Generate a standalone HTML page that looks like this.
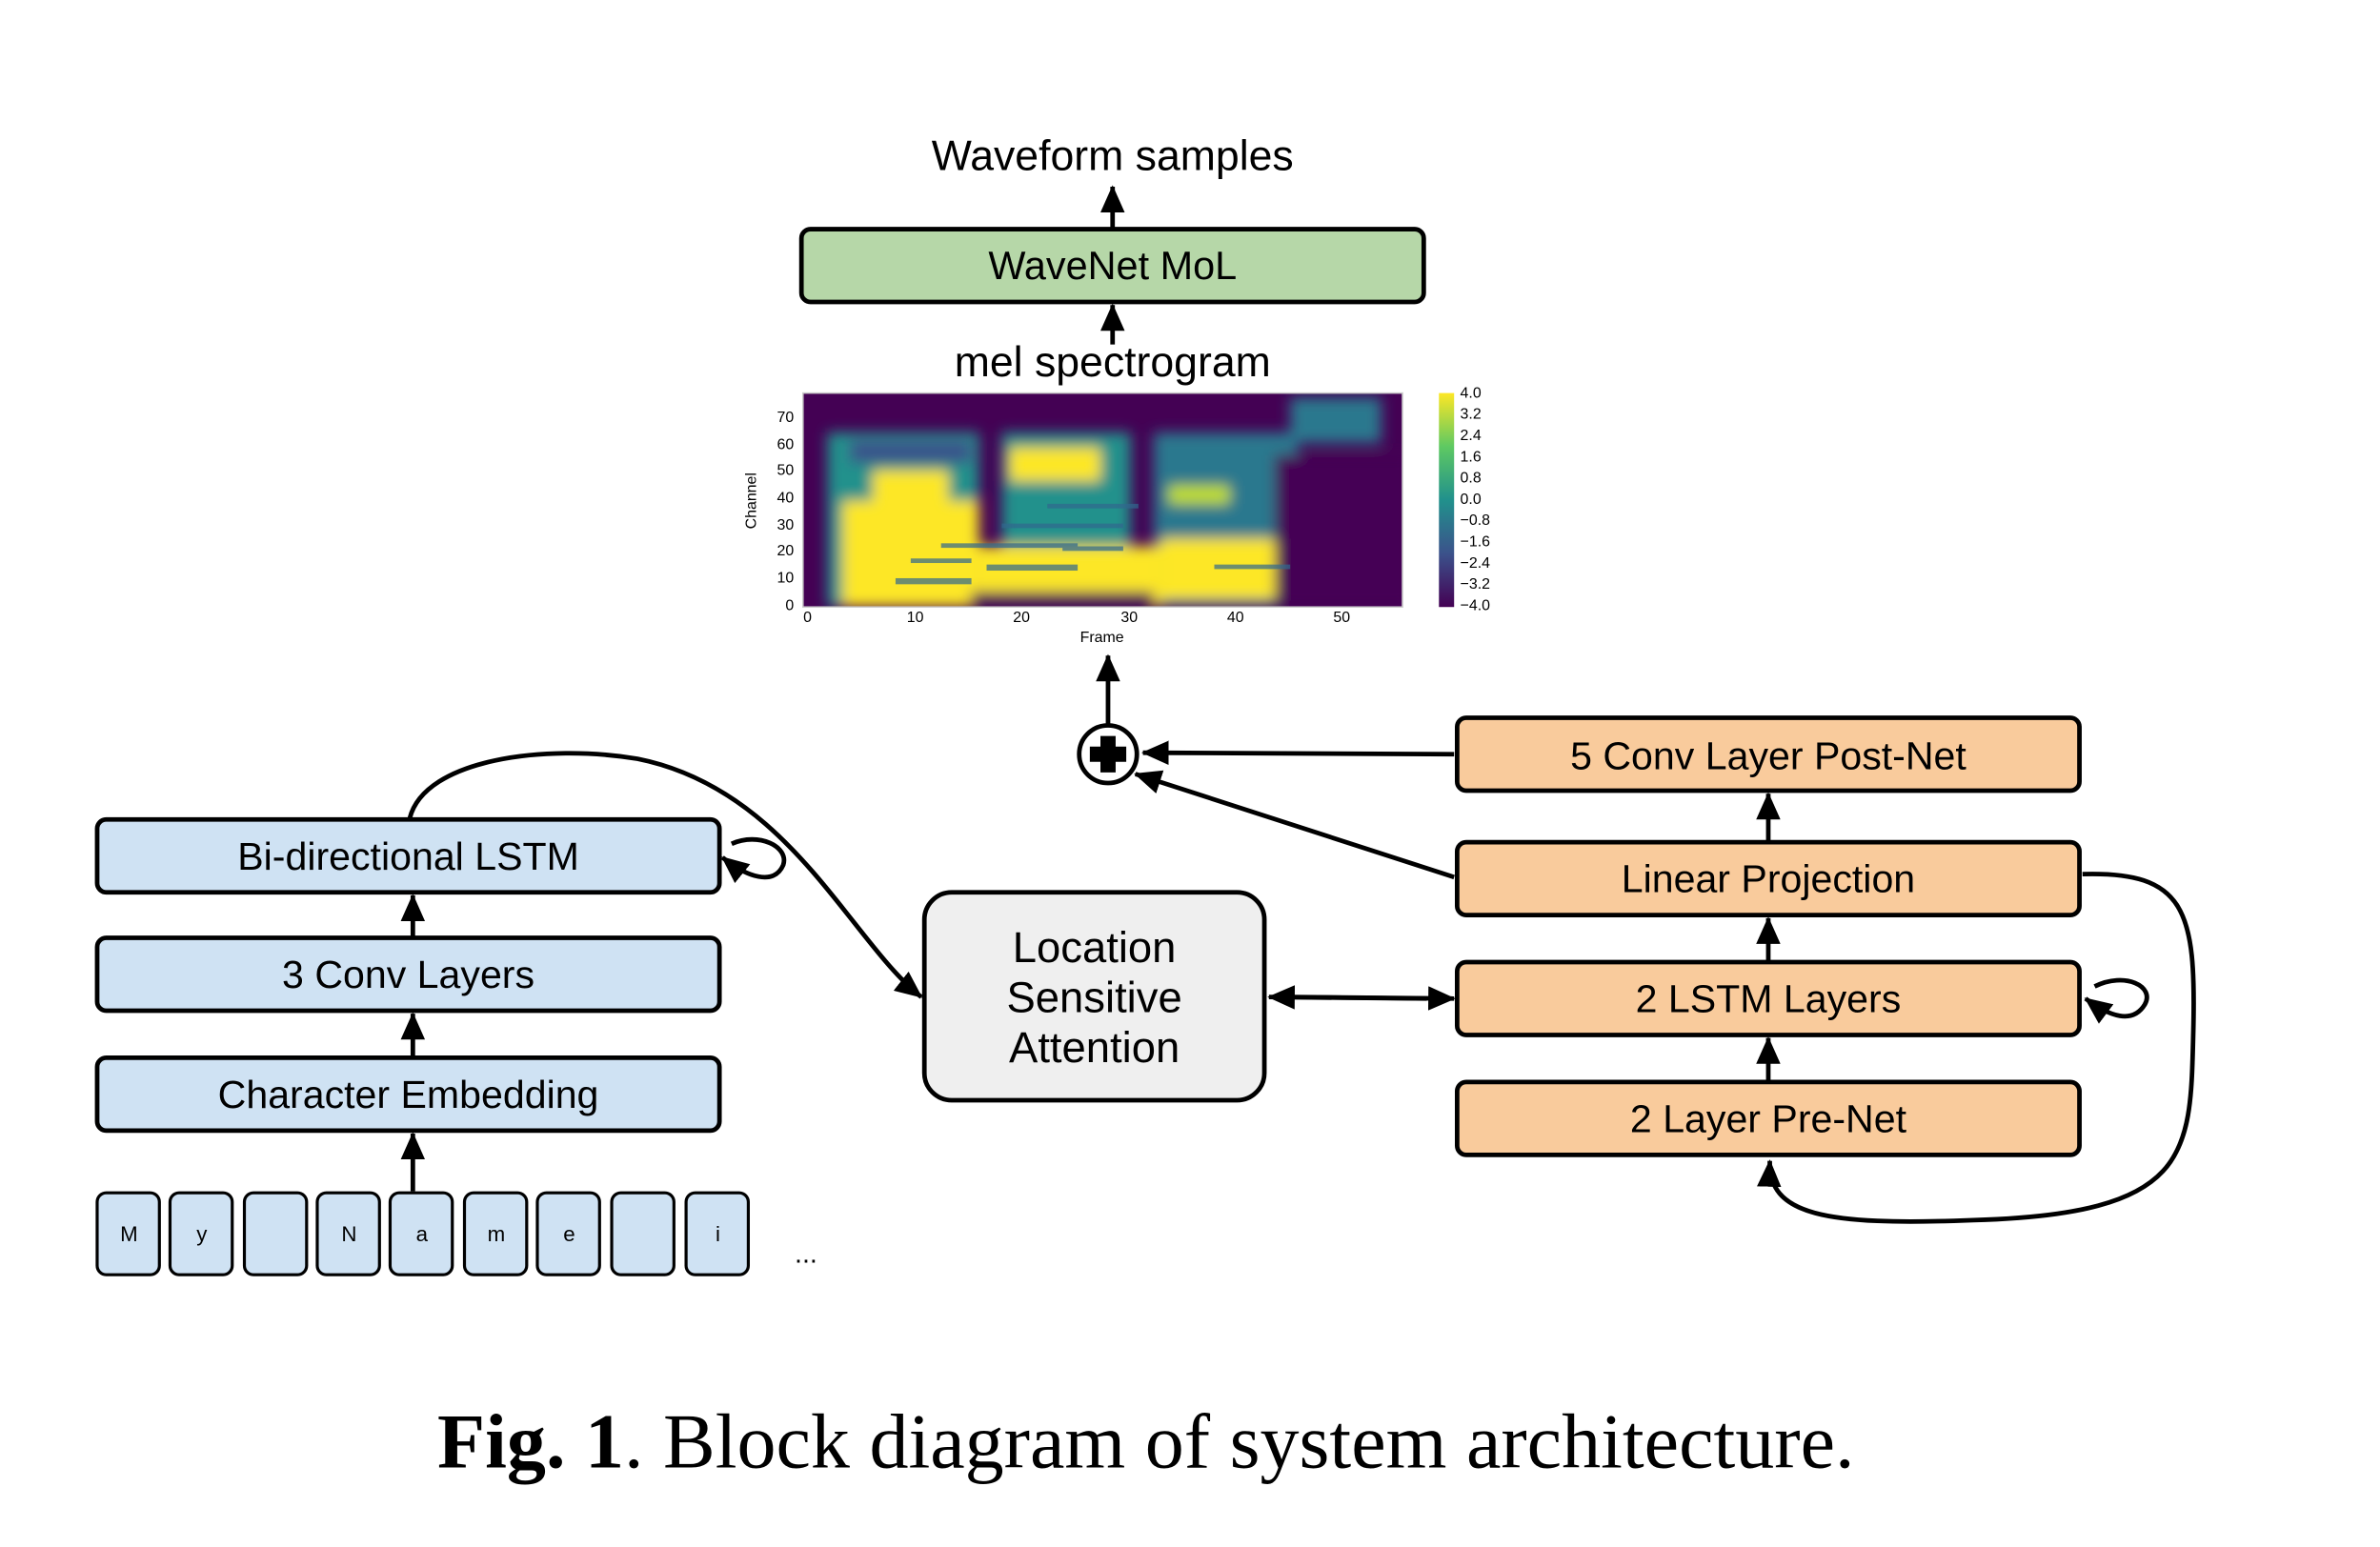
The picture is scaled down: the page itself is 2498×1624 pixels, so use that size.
<!DOCTYPE html>
<html><head><meta charset="utf-8"><style>
html,body{margin:0;padding:0;background:#fff;}
svg{display:block;}
.s{font-family:"Liberation Sans",sans-serif;}
</style></head><body>
<svg width="2498" height="1624" viewBox="0 0 1568 1019.4" xmlns="http://www.w3.org/2000/svg">
<defs>
<marker id="ah2" markerWidth="18" markerHeight="16" refX="17" refY="8" orient="auto" markerUnits="userSpaceOnUse" viewBox="0 0 18 16"><path d="M0,0 L18,8 L0,16 z" fill="#000"/></marker>
<filter id="bl" x="-20%" y="-20%" width="140%" height="140%"><feGaussianBlur stdDeviation="4.5"/></filter>
<clipPath id="cp"><rect x="529" y="259" width="395" height="141"/></clipPath>
<linearGradient id="cb" x1="0" y1="1" x2="0" y2="0">
<stop offset="0" stop-color="#440154"/><stop offset="0.25" stop-color="#3b528b"/><stop offset="0.5" stop-color="#21918c"/><stop offset="0.75" stop-color="#5ec962"/><stop offset="1" stop-color="#fde725"/></linearGradient>
</defs>
<g class="s" fill="#000">
<text x="733" y="112" font-size="28" text-anchor="middle">Waveform samples</text>
<line x1="733" y1="150" x2="733" y2="123" stroke="#000" stroke-width="3" marker-end="url(#ah2)"/>
<rect x="528" y="151" width="410" height="48" rx="6" fill="#b6d7a8" stroke="#000" stroke-width="3"/>
<text x="733" y="184" font-size="26" text-anchor="middle">WaveNet MoL</text>
<line x1="733" y1="227" x2="733" y2="201" stroke="#000" stroke-width="3" marker-end="url(#ah2)"/>
<text x="733" y="248" font-size="28" text-anchor="middle">mel spectrogram</text>

<rect x="529" y="259" width="395" height="141" fill="#440154"/>
<g clip-path="url(#cp)" filter="url(#bl)">
<rect x="545" y="285" width="100" height="115" fill="#21918c"/>
<rect x="660" y="285" width="85" height="115" fill="#21918c"/>
<rect x="760" y="285" width="95" height="115" fill="#2a788e"/>
<rect x="850" y="262" width="60" height="30" fill="#2a788e"/>
<rect x="560" y="290" width="80" height="15" fill="#3b528b"/>
<rect x="555" y="330" width="90" height="70" fill="#fde725"/>
<rect x="575" y="310" width="50" height="25" fill="#fde725"/>
<rect x="645" y="360" width="120" height="40" fill="#fde725"/>
<rect x="665" y="295" width="60" height="22" fill="#fde725"/>
<rect x="765" y="355" width="80" height="40" fill="#fde725"/>
<rect x="770" y="320" width="40" height="12" fill="#c2df23"/>
<rect x="640" y="390" width="120" height="10" fill="#440154"/>
<rect x="840" y="300" width="90" height="100" fill="#440154"/>
</g>
<g clip-path="url(#cp)" fill="#31688e" opacity="0.7">
<rect x="590" y="381" width="50" height="4"/><rect x="650" y="372" width="60" height="4"/>
<rect x="620" y="358" width="90" height="3"/><rect x="660" y="345" width="80" height="3"/>
<rect x="690" y="332" width="60" height="3"/><rect x="800" y="372" width="50" height="3"/>
<rect x="700" y="360" width="40" height="3"/><rect x="600" y="368" width="40" height="3"/>
</g>
<rect x="529" y="259" width="395" height="141" fill="none" stroke="#ccc" stroke-width="1"/>
<g font-size="10" text-anchor="end">
<text x="523" y="402">0</text><text x="523" y="384">10</text><text x="523" y="366">20</text><text x="523" y="349">30</text><text x="523" y="331">40</text><text x="523" y="313">50</text><text x="523" y="296">60</text><text x="523" y="278">70</text>
</g>
<g font-size="10" text-anchor="middle">
<text x="532" y="410">0</text><text x="603" y="410">10</text><text x="673" y="410">20</text><text x="744" y="410">30</text><text x="814" y="410">40</text><text x="884" y="410">50</text>
<text x="726" y="423">Frame</text>
</g>
<text x="0" y="0" font-size="10" text-anchor="middle" transform="translate(498,330) rotate(-90)">Channel</text>
<rect x="948" y="259" width="10" height="141" fill="url(#cb)"/>
<g font-size="10">
<text x="962" y="262">4.0</text><text x="962" y="276">3.2</text><text x="962" y="290">2.4</text><text x="962" y="304">1.6</text><text x="962" y="318">0.8</text><text x="962" y="332">0.0</text><text x="962" y="346">−0.8</text><text x="962" y="360">−1.6</text><text x="962" y="374">−2.4</text><text x="962" y="388">−3.2</text><text x="962" y="402">−4.0</text>
</g>

<line x1="730" y1="478" x2="730" y2="432" stroke="#000" stroke-width="3" marker-end="url(#ah2)"/>
<circle cx="730" cy="497" r="19" fill="#fff" stroke="#000" stroke-width="3"/>
<path d="M725,485 h10 v7 h7 v10 h-7 v7 h-10 v-7 h-7 v-10 h7 z" fill="#000"/>

<g stroke="#000" stroke-width="3" fill="#f9cb9c">
<rect x="960" y="473" width="410" height="48" rx="6"/>
<rect x="960" y="555" width="410" height="48" rx="6"/>
<rect x="960" y="634" width="410" height="48" rx="6"/>
<rect x="960" y="713" width="410" height="48" rx="6"/>
</g>
<g font-size="25.8" text-anchor="middle">
<text x="1165" y="507">5 Conv Layer Post-Net</text>
<text x="1165" y="588">Linear Projection</text>
<text x="1165" y="667">2 LSTM Layers</text>
<text x="1165" y="746">2 Layer Pre-Net</text>
</g>
<g stroke="#000" stroke-width="3" fill="none">
<line x1="958" y1="497" x2="753" y2="496" marker-end="url(#ah2)"/>
<line x1="958" y1="578" x2="748" y2="510" marker-end="url(#ah2)"/>
<line x1="1165" y1="554" x2="1165" y2="523" marker-end="url(#ah2)"/>
<line x1="1165" y1="633" x2="1165" y2="605" marker-end="url(#ah2)"/>
<line x1="1165" y1="712" x2="1165" y2="684" marker-end="url(#ah2)"/>
<path d="M1372,576 C1440,574 1447,600 1445,680 C1443,760 1445,800 1300,804 C1200,808 1165,800 1166,765" marker-end="url(#ah2)"/>
<path d="M1380,650 C1400,640 1420,650 1413,662 C1405,675 1390,670 1374,658" marker-end="url(#ah2)"/>
<line x1="850" y1="657" x2="958" y2="658" marker-end="url(#ah2)"/>
<line x1="940" y1="658" x2="836" y2="657" marker-end="url(#ah2)"/>
</g>

<rect x="609" y="588" width="224" height="137" rx="18" fill="#efefef" stroke="#000" stroke-width="3"/>
<g font-size="28.5" text-anchor="middle">
<text x="721" y="634">Location</text><text x="721" y="667">Sensitive</text><text x="721" y="700">Attention</text>
</g>

<g stroke="#000" stroke-width="3" fill="#cfe2f3">
<rect x="64" y="540" width="410" height="48" rx="6"/>
<rect x="64" y="618" width="410" height="48" rx="6"/>
<rect x="64" y="697" width="410" height="48" rx="6"/>
</g>
<g font-size="25.8" text-anchor="middle">
<text x="269" y="573">Bi-directional LSTM</text>
<text x="269" y="651">3 Conv Layers</text>
<text x="269" y="730">Character Embedding</text>
</g>
<g stroke="#000" stroke-width="3" fill="none">
<line x1="272" y1="617" x2="272" y2="590" marker-end="url(#ah2)"/>
<line x1="272" y1="696" x2="272" y2="668" marker-end="url(#ah2)"/>
<line x1="272" y1="785" x2="272" y2="747" marker-end="url(#ah2)"/>
<path d="M270,539 C280,500 360,490 420,500 C520,520 560,620 607,657" marker-end="url(#ah2)"/>
<path d="M482,556 C500,548 520,558 516,570 C510,584 492,578 476,565" marker-end="url(#ah2)"/>
</g>
<g stroke="#000" stroke-width="2" fill="#cfe2f3">
<rect x="64" y="786" width="41" height="54" rx="6"/>
<rect x="112" y="786" width="41" height="54" rx="6"/>
<rect x="161" y="786" width="41" height="54" rx="6"/>
<rect x="209" y="786" width="41" height="54" rx="6"/>
<rect x="257" y="786" width="41" height="54" rx="6"/>
<rect x="306" y="786" width="41" height="54" rx="6"/>
<rect x="354" y="786" width="41" height="54" rx="6"/>
<rect x="403" y="786" width="41" height="54" rx="6"/>
<rect x="452" y="786" width="41" height="54" rx="6"/>
</g>
<g font-size="14" text-anchor="middle">
<text x="85" y="818">M</text><text x="133" y="818">y</text><text x="230" y="818">N</text><text x="278" y="818">a</text><text x="327" y="818">m</text><text x="375" y="818">e</text><text x="473" y="818">i</text>
<text x="531" y="832" font-size="18">...</text>
</g>
</g>
<text x="755" y="967" font-family="Liberation Serif,serif" font-size="51.5" text-anchor="middle"><tspan font-weight="bold">Fig. 1</tspan>. Block diagram of system architecture.</text>
</svg>
</body></html>
